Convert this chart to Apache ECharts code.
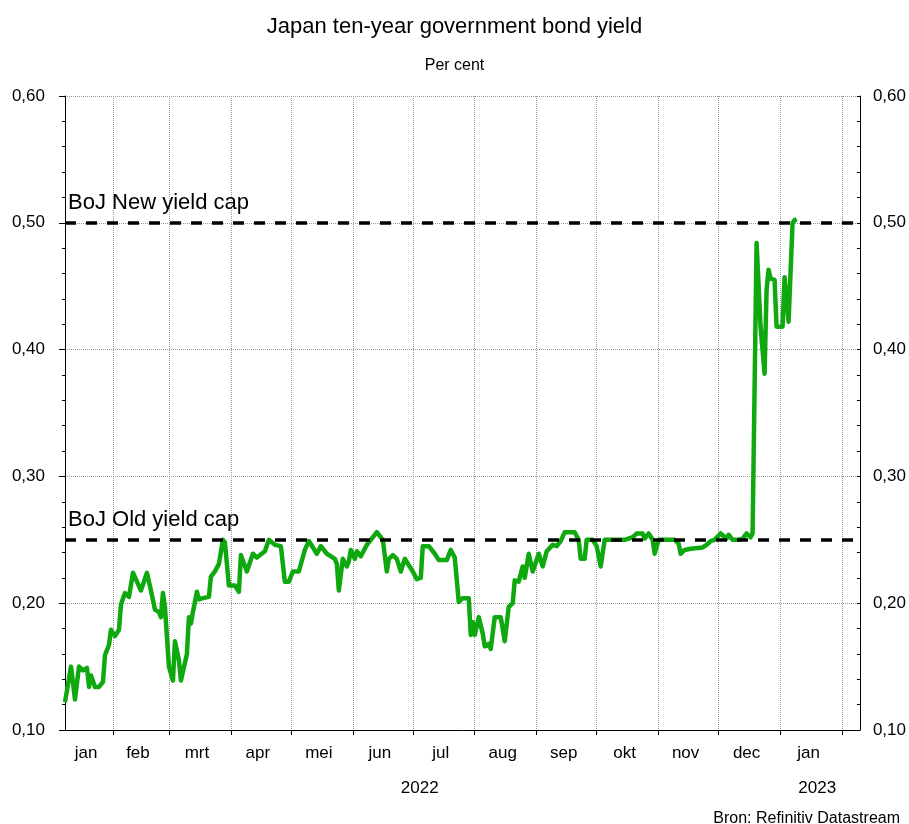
<!DOCTYPE html>
<html>
<head>
<meta charset="utf-8">
<script src="https://cdn.jsdelivr.net/npm/echarts@6/dist/echarts.min.js"></script>
<style>html,body{margin:0;padding:0;background:#fff;overflow:hidden}#c{width:909px;height:824px}</style>
</head>
<body>
<div id="c"></div>
<script>
// days since 2022-01-01
const dayNo = [7,10,12,13,14,16,18,19,20,22,24,26,27,29,30,32,34,35,36,37,39,41,42,45,48,50,52,54,55,56,57,59,61,62,64,65,67,68,69,70,71,73,74,76,79,80,82,84,86,87,89,92,94,95,98,99,101,103,107,109,112,115,117,119,121,124,127,129,133,135,138,142,143,144,146,148,149,150,152,153,155,158,160,163,165,166,168,169,171,173,175,177,178,181,183,185,186,189,192,194,198,200,202,204,206,209,210,211,212,214,216,217,219,220,222,225,227,229,231,232,234,236,237,239,241,242,244,246,248,251,253,255,257,260,262,264,265,267,268,271,273,275,277,281,287,291,293,296,297,299,301,302,304,312,314,315,317,320,326,328,330,332,335,336,338,339,341,344,346,348,350,351,353,355,357,358,359,360,362,363,366,367,369,371,372,373];
const yieldPct = [0.122,0.150,0.124,0.124,0.150,0.147,0.149,0.134,0.143,0.134,0.134,0.138,0.159,0.167,0.179,0.174,0.179,0.199,0.200,0.208,0.205,0.224,0.224,0.210,0.224,0.210,0.195,0.193,0.189,0.208,0.197,0.150,0.139,0.170,0.155,0.139,0.153,0.160,0.189,0.184,0.193,0.209,0.203,0.204,0.205,0.221,0.225,0.231,0.250,0.248,0.214,0.214,0.209,0.238,0.225,0.226,0.239,0.236,0.241,0.250,0.246,0.245,0.217,0.217,0.225,0.225,0.242,0.249,0.239,0.245,0.239,0.235,0.231,0.210,0.235,0.229,0.233,0.242,0.235,0.241,0.237,0.246,0.250,0.256,0.252,0.250,0.225,0.235,0.238,0.235,0.225,0.235,0.234,0.225,0.219,0.220,0.245,0.245,0.239,0.234,0.234,0.242,0.236,0.201,0.204,0.204,0.175,0.185,0.175,0.189,0.176,0.166,0.168,0.164,0.189,0.189,0.170,0.197,0.200,0.218,0.217,0.229,0.220,0.239,0.225,0.225,0.239,0.229,0.241,0.246,0.245,0.249,0.256,0.256,0.256,0.250,0.235,0.235,0.250,0.250,0.245,0.229,0.250,0.250,0.250,0.252,0.255,0.255,0.251,0.255,0.250,0.239,0.250,0.250,0.247,0.239,0.242,0.243,0.244,0.246,0.249,0.250,0.255,0.254,0.251,0.254,0.250,0.250,0.251,0.255,0.252,0.255,0.484,0.418,0.381,0.447,0.463,0.456,0.455,0.418,0.418,0.457,0.422,0.500,0.502,0.503];
const monthNames = ['jan','feb','mrt','apr','mei','jun','jul','aug','sep','okt','nov','dec'];
const yearNames = ['2022','2023'];
const capLevels = [0.50, 0.25];
const capLabels = ['BoJ New yield cap', 'BoJ Old yield cap'];
const yMin = 0.10, yMax = 0.60, yStep = 0.10;
const axisStartDay = 7, axisEndDay = 404.7;

const DAY = 86400000;
const base = Date.UTC(2022, 0, 1);
const toDay = t => (t - base) / DAY;
const FONT = "'Liberation Sans Narrow','Arial Narrow','Liberation Sans',Arial,sans-serif";

const lineData = dayNo.map((d, i) => [d, yieldPct[i]]);
const monthStarts = [];
for (let m = 0; m <= 13; m++) {
  const d = toDay(Date.UTC(2022, m, 1));
  if (d > axisStartDay && d < axisEndDay) monthStarts.push(d);
}
const monthLabelPos = [];
for (let m = 0; m <= 12; m++) {
  const s = Math.max(toDay(Date.UTC(2022, m, 1)), axisStartDay);
  const e = Math.min(toDay(Date.UTC(2022, m + 1, 1)), axisEndDay);
  monthLabelPos.push((s + e) / 2 - 1.5);
}
const y2023 = toDay(Date.UTC(2023, 0, 1));
const yearLabelPos = [(axisStartDay + y2023) / 2 - 1.5, (y2023 + axisEndDay) / 2 - 1.5];
const fmtY = v => v.toFixed(2).replace('.', ',');
const dayToDate = d => new Date(base + d * DAY);

const chart = echarts.init(document.getElementById('c'), null, {renderer: 'canvas'});
chart.setOption({
  animation: false,
  backgroundColor: '#fff',
  textStyle: {fontFamily: FONT, color: '#000'},
  title: [{
    text: 'Japan ten-year government bond yield',
    subtext: 'Per cent',
    left: 'center', top: 11, itemGap: 20,
    textStyle: {fontFamily: FONT, fontSize: 22, fontWeight: 'normal', color: '#000'},
    subtextStyle: {fontFamily: FONT, fontSize: 16, color: '#000'}
  }, {
    text: 'Bron: Refinitiv Datastream',
    right: 4, top: 806,
    textStyle: {fontFamily: FONT, fontSize: 16, fontWeight: 'normal', color: '#000'}
  }],
  grid: {left: 65, right: 47, top: 96, bottom: 94, containLabel: false},
  xAxis: [{
    type: 'value', min: axisStartDay, max: axisEndDay,
    axisLine: {show: true, onZero: false, lineStyle: {color: '#000', width: 1}},
    axisTick: {show: true, inside: false, length: 5, customValues: monthStarts, lineStyle: {color: '#000', width: 1}},
    splitLine: {show: true, lineStyle: {color: '#999', type: 'dotted', width: 1}},
    axisLabel: {customValues: monthLabelPos, margin: 15, fontSize: 17, fontFamily: FONT, color: '#000',
      formatter: v => monthNames[dayToDate(v).getUTCMonth()]}
  }, {
    type: 'value', min: axisStartDay, max: axisEndDay, position: 'bottom',
    axisLine: {show: false, onZero: false}, axisTick: {show: false}, splitLine: {show: false},
    axisLabel: {customValues: yearLabelPos, margin: 50, fontSize: 17, fontFamily: FONT, color: '#000',
      formatter: v => yearNames[dayToDate(v).getUTCFullYear() - 2022]}
  }],
  yAxis: [{
    type: 'value', min: yMin, max: yMax, interval: yStep, position: 'left',
    axisLine: {show: true, lineStyle: {color: '#000', width: 1}},
    axisTick: {show: true, inside: false, length: 6, lineStyle: {color: '#000'}},
    minorTick: {show: true, splitNumber: 5, length: 3, lineStyle: {color: '#000'}},
    splitLine: {show: true, lineStyle: {color: '#999', type: 'dotted', width: 1}},
    axisLabel: {margin: 20, fontSize: 17, fontFamily: FONT, color: '#000', formatter: fmtY}
  }, {
    type: 'value', min: yMin, max: yMax, interval: yStep, position: 'right',
    axisLine: {show: true, lineStyle: {color: '#000', width: 1}},
    axisTick: {show: true, inside: true, length: 3, lineStyle: {color: '#000'}},
    minorTick: {show: true, splitNumber: 5, length: 3, lineStyle: {color: '#000'}},
    splitLine: {show: false},
    axisLabel: {margin: 13, fontSize: 17, fontFamily: FONT, color: '#000', formatter: fmtY}
  }],
  series: [{
    type: 'line', xAxisIndex: 0, yAxisIndex: 0,
    data: lineData, showSymbol: false, symbol: 'none',
    lineStyle: {color: '#0fa80f', width: 4.5, join: 'round'},
    markLine: {
      silent: true, symbol: ['none', 'none'], z: 5,
      lineStyle: {color: '#000', width: 3.5, type: [11, 10]},
      label: {show: true, position: 'insideStartTop', distance: [3, 9], fontSize: 22, fontFamily: FONT, color: '#000',
        formatter: p => p.name},
      data: capLevels.map((v, i) => ({yAxis: v, name: capLabels[i]}))
    }
  }]
});
</script>
</body>
</html>
